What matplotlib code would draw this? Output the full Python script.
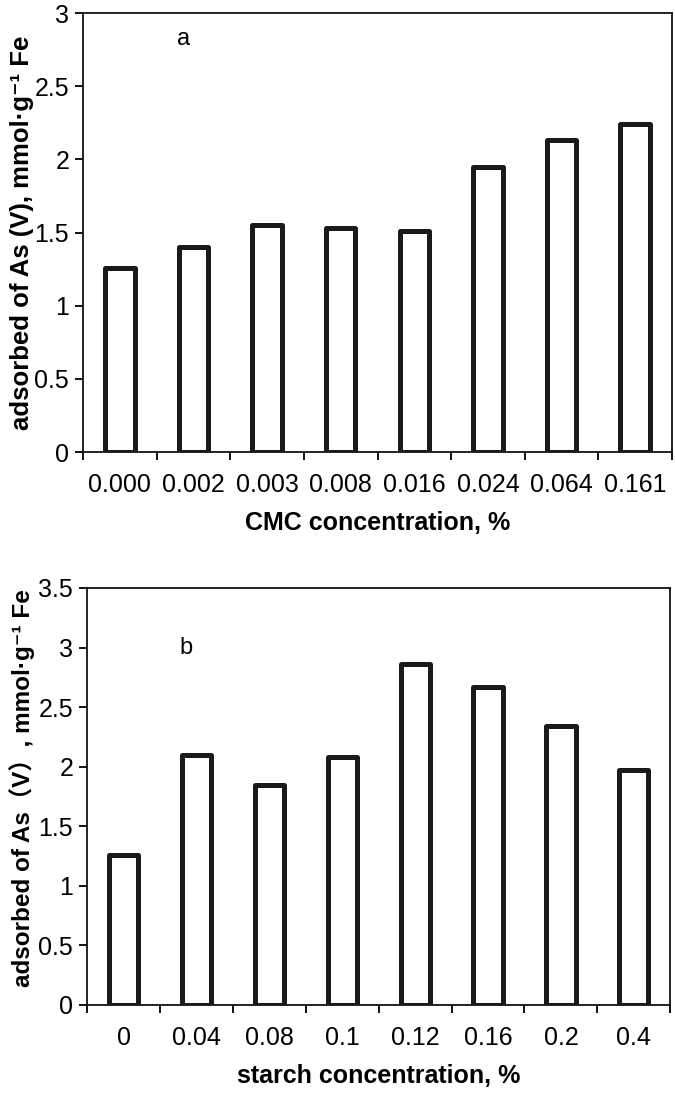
import matplotlib
matplotlib.use("Agg")
import matplotlib.pyplot as plt
import numpy as np

# data
cmc_labels = ["0.000", "0.002", "0.003", "0.008", "0.016", "0.024", "0.064", "0.161"]
cmc_values = [1.26, 1.40, 1.55, 1.53, 1.51, 1.95, 2.13, 2.24]

starch_labels = ["0", "0.04", "0.08", "0.1", "0.12", "0.16", "0.2", "0.4"]
starch_values = [1.26, 2.10, 1.85, 2.08, 2.86, 2.67, 2.34, 1.97]

plt.rcParams["font.family"] = ["Liberation Sans", "DejaVu Sans", "Noto Sans CJK SC"]

fig = plt.figure(figsize=(6.75, 11.15), dpi=100)
ax1 = fig.add_axes([0.123, 0.5946, 0.8726, 0.3937])
ax2 = fig.add_axes([0.129, 0.0987, 0.864, 0.374])


def draw_panel(ax, labels, values, ymax, xlabel, ylabel, ylab_size, tag, tag_y):
    x = np.arange(len(labels))
    ax.bar(x, values, width=0.4, color="white", edgecolor="#1a1a1a",
           linewidth=3.6, joinstyle="round", zorder=3)
    ax.set_xlim(-0.5, len(labels) - 0.5)
    ax.set_ylim(0, ymax)
    yt = np.arange(0, ymax + 0.01, 0.5)
    ax.set_yticks(yt)
    ax.set_yticklabels([f"{v:g}" for v in yt])
    # category labels without marks, marks between categories
    ax.set_xticks(x)
    ax.set_xticklabels(labels)
    ax.tick_params(axis="x", which="major", length=0, pad=15, labelsize=18)
    ax.set_xticks(np.arange(-0.5, len(labels)), minor=True)
    ax.tick_params(axis="x", which="minor", length=6, width=1.3, direction="out")
    ax.tick_params(axis="y", length=6, width=1.3, direction="out", labelsize=18, pad=4)
    for s in ax.spines.values():
        s.set_linewidth(1.3)
        s.set_color("#111111")
    ax.set_xlabel(xlabel, fontsize=18, fontweight="bold", labelpad=10)
    ax.set_ylabel(ylabel, fontsize=ylab_size, fontweight="bold", labelpad=4)
    ax.text(0.17, tag_y, tag, transform=ax.transAxes, fontsize=17,
            ha="center", va="center")


draw_panel(ax1, cmc_labels, cmc_values, 3.0, "CMC concentration, %",
           "adsorbed of As (V), mmol·g⁻¹ Fe", 18.5, "a", 0.94)
draw_panel(ax2, starch_labels, starch_values, 3.5, "starch concentration, %",
           "adsorbed of As（V）, mmol·g⁻¹ Fe", 17.5, "b", 0.856)
ax1.yaxis.set_label_coords(-0.083, 0.5)
ax2.yaxis.set_label_coords(-0.09, 0.52)

fig.savefig("out.png", dpi=100)
